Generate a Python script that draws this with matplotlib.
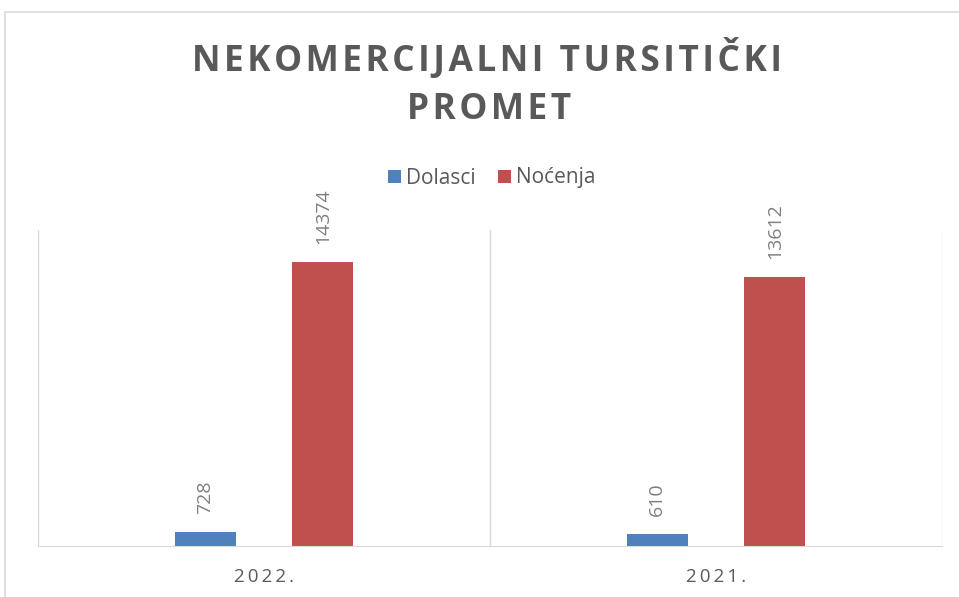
import numpy as np
import matplotlib.pyplot as plt
from matplotlib.patches import Rectangle

years = ['2022.', '2021.']
dolasci = [728, 610]
nocenja = [14374, 13612]

blue = '#4f81bd'
red = '#c0504d'
grid_col = '#d9d9d9'
txt_col = '#595959'

def spaced(s, sep='\u200a'):
    return sep.join(s)

fig = plt.figure(figsize=(9.59, 5.97), dpi=100)
ax = fig.add_axes([38/959, 1-546/597, (942-38)/959, (546-230)/597])

x = np.arange(len(years))
w = 0.135
b1 = ax.bar(x - 0.13, dolasci, w, color=blue, label='Dolasci')
b2 = ax.bar(x + 0.13, nocenja, w, color=red, label='Noćenja')

# rotated value labels above bars
for bars in (b1, b2):
    for r in bars:
        ax.annotate(str(int(r.get_height())), (r.get_x() + r.get_width()/2, r.get_height()),
                    xytext=(0, 13), textcoords='offset points', rotation=90,
                    ha='center', va='bottom', fontsize=14, color='#7f7f7f',
                    family='Open Sans')

ax.set_xlim(-0.5, 1.5)
ax.set_ylim(0, 16000)
ax.set_yticks([])
ax.set_xticks(x)
ax.set_xticklabels([spaced(y, '\u2009') for y in years], fontsize=13.5, color=txt_col, family='Open Sans')
ax.tick_params(axis='x', length=0, pad=16)
for v in [-0.5, 0.5, 1.5]:
    ax.axvline(v, color=grid_col, lw=1, zorder=0)
for s in ['top', 'right', 'left']:
    ax.spines[s].set_visible(False)
ax.spines['bottom'].set_color(grid_col)

# outer chart frame
fig.patches.append(Rectangle((5/959, -0.1), 1.1, 1 - 12/597 + 0.1, transform=fig.transFigure,
                             fill=False, edgecolor=grid_col, lw=1.2))

fig.text(0.508, 1-60/597, spaced('NEKOMERCIJALNI TURSITIČKI'), ha='center', va='center',
         fontsize=25.4, fontweight='bold', color=txt_col, family='Open Sans')
fig.text(0.51, 1-110/597, spaced('PROMET'), ha='center', va='center',
         fontsize=25.4, fontweight='bold', color=txt_col, family='Open Sans')

leg = fig.legend(loc='center', bbox_to_anchor=(0.513, 1-178/597), ncol=2, frameon=False,
                 prop={'family': 'Open Sans', 'size': 15}, handlelength=0.6, handleheight=0.6,
                 handletextpad=0.25, columnspacing=1.1, labelcolor=txt_col)

fig.savefig('out.png', dpi=100)
